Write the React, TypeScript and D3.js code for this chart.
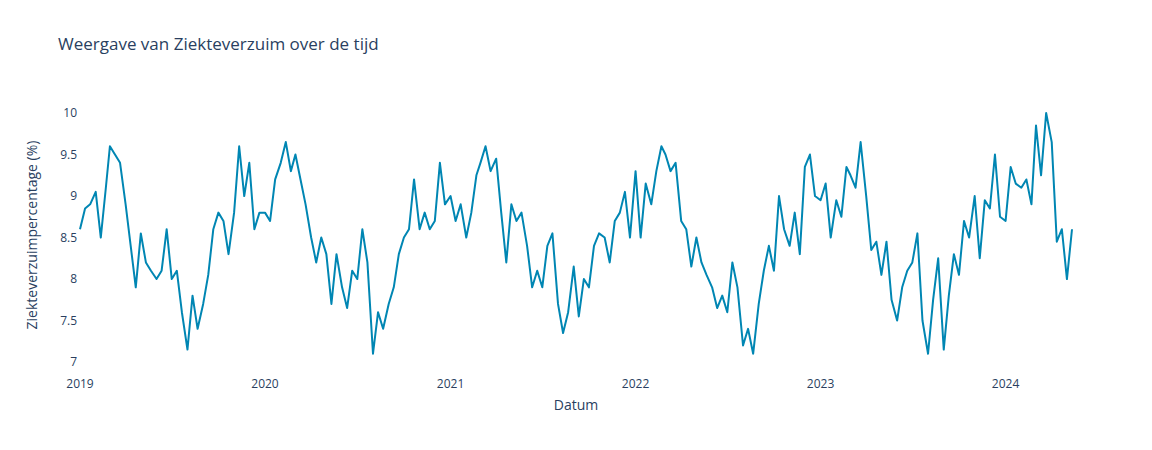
import React from 'react'
import * as d3 from 'd3'

// three readings per month: day 1, 11, 21
const years = [2019, 2020, 2021, 2022, 2023, 2024]

const values2019 = [
  8.6, 8.85, 8.9, 9.05, 8.5, 9.1, 9.6, 9.5, 9.4, 8.9, 8.4, 7.9,
  8.55, 8.2, 8.1, 8.0, 8.1, 8.6, 8.0, 8.1, 7.6, 7.15, 7.8, 7.4,
  7.7, 8.05, 8.6, 8.8, 8.7, 8.3, 8.8, 9.6, 9.0, 9.4, 8.6, 8.8,
]
const values2020 = [
  8.8, 8.7, 9.2, 9.4, 9.65, 9.3, 9.5, 9.2, 8.9, 8.5, 8.2, 8.5,
  8.3, 7.7, 8.3, 7.9, 7.65, 8.1, 8.0, 8.6, 8.2, 7.1, 7.6, 7.4,
  7.7, 7.9, 8.3, 8.5, 8.6, 9.2, 8.6, 8.8, 8.6, 8.7, 9.4, 8.9,
]
const values2021 = [
  9.0, 8.7, 8.9, 8.5, 8.8, 9.25, 9.4, 9.6, 9.3, 9.45, 8.8, 8.2,
  8.9, 8.7, 8.8, 8.4, 7.9, 8.1, 7.9, 8.4, 8.55, 7.7, 7.35, 7.6,
  8.15, 7.55, 8.0, 7.9, 8.4, 8.55, 8.5, 8.2, 8.7, 8.8, 9.05, 8.5,
]
const values2022 = [
  9.3, 8.5, 9.15, 8.9, 9.3, 9.6, 9.5, 9.3, 9.4, 8.7, 8.6, 8.15,
  8.5, 8.2, 8.05, 7.9, 7.65, 7.8, 7.6, 8.2, 7.9, 7.2, 7.4, 7.1,
  7.7, 8.1, 8.4, 8.1, 9.0, 8.6, 8.4, 8.8, 8.3, 9.35, 9.5, 9.0,
]
const values2023 = [
  8.95, 9.15, 8.5, 8.95, 8.75, 9.35, 9.25, 9.1, 9.65, 9.0, 8.35, 8.45,
  8.05, 8.45, 7.75, 7.5, 7.9, 8.1, 8.2, 8.55, 7.5, 7.1, 7.75, 8.25,
  7.15, 7.8, 8.3, 8.05, 8.7, 8.5, 9.0, 8.25, 8.95, 8.85, 9.5, 8.75,
]
const values2024 = [
  8.7, 9.35, 9.15, 9.1, 9.2, 8.9, 9.85, 9.25, 10.0, 9.65, 8.45, 8.6,
  8.0, 8.6,
]

const yTicks = [7, 7.5, 8, 8.5, 9, 9.5, 10]

type Point = { date: Date; value: number }

const series = [values2019, values2020, values2021, values2022, values2023, values2024]
const points: Point[] = series.flatMap((vals, yi) =>
  vals.map((value, i) => ({
    date: new Date(years[yi], Math.floor(i / 3), 1 + (i % 3) * 10),
    value,
  })),
)

const W = 1152
const H = 450
const margin = { top: 100, right: 80, bottom: 80, left: 80 }
const font = '"Open Sans", "Noto Sans", sans-serif'
const textColor = '#2a3f5f'

export default function App() {
  const x = d3
    .scaleTime()
    .domain([new Date(2019, 0, 1), new Date(2024, 4, 11)])
    .range([margin.left, W - margin.right])
  const y = d3
    .scaleLinear()
    .domain([6.904, 10.157])
    .range([H - margin.bottom, margin.top])

  const line = d3
    .line<Point>()
    .x((d) => x(d.date))
    .y((d) => y(d.value))

  return (
    <svg
      width={W}
      height={H}
      style={{ position: 'absolute', left: 0, top: 0, background: '#fff' }}
      fontFamily={font}
    >
      <text x={58} y={50} fontSize={17} fill={textColor}>
        Weergave van Ziekteverzuim over de tijd
      </text>

      {years.map((yr) => (
        <text
          key={yr}
          x={x(new Date(yr, 0, 1))}
          y={H - margin.bottom + 18}
          fontSize={12}
          fill={textColor}
          textAnchor="middle"
        >
          {yr}
        </text>
      ))}

      {yTicks.map((t) => (
        <text
          key={t}
          x={margin.left - 3}
          y={y(t) + 4}
          fontSize={12}
          fill={textColor}
          textAnchor="end"
        >
          {t}
        </text>
      ))}

      <text
        x={(margin.left + W - margin.right) / 2}
        y={410}
        fontSize={14}
        fill={textColor}
        textAnchor="middle"
      >
        Datum
      </text>
      <text
        transform={`translate(37,${(margin.top + H - margin.bottom) / 2}) rotate(-90)`}
        fontSize={14}
        fill={textColor}
        textAnchor="middle"
      >
        Ziekteverzuimpercentage (%)
      </text>

      <path
        d={line(points) ?? ''}
        fill="none"
        stroke="#0086b3"
        strokeWidth={2}
        strokeLinejoin="round"
      />
    </svg>
  )
}
